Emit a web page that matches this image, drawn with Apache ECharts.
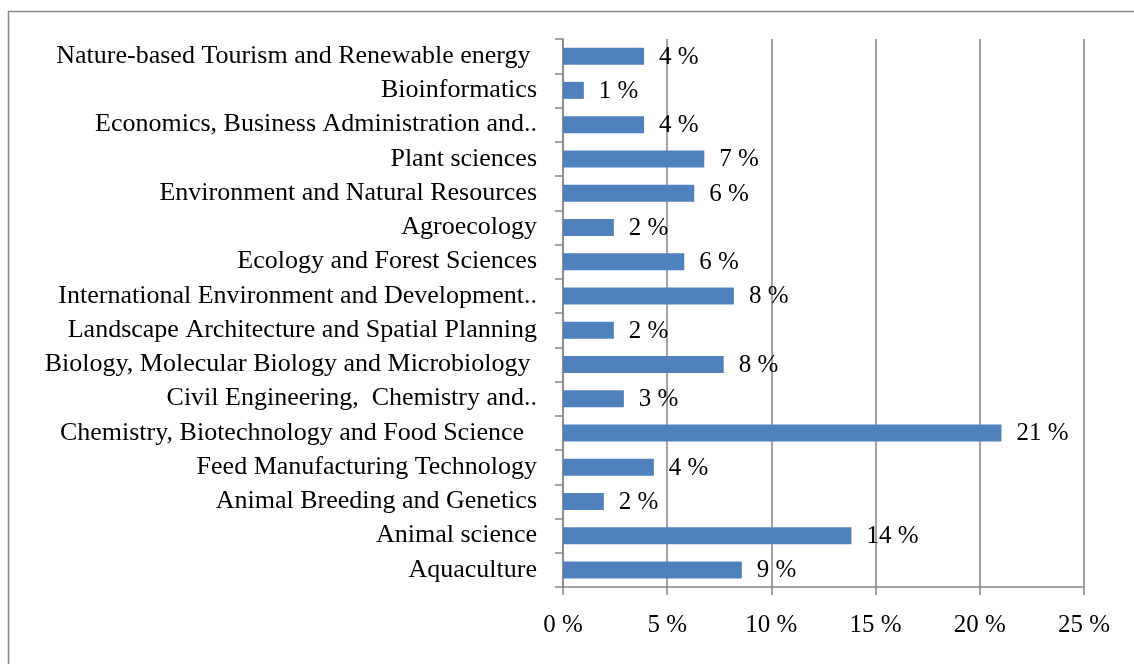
<!DOCTYPE html>
<html>
<head>
<meta charset="utf-8">
<script src="https://cdn.jsdelivr.net/npm/echarts@6/dist/echarts.min.js"></script>
<style>
html,body{margin:0;padding:0;background:#fff;}
#chart{width:1134px;height:664px;}
</style>
</head>
<body>
<div id="chart"></div>
<script>
// Categories listed bottom to top
var categories = [
  "Aquaculture",
  "Animal science",
  "Animal Breeding and Genetics",
  "Feed Manufacturing Technology",
  "Chemistry, Biotechnology and Food Science  ",
  "Civil Engineering,  Chemistry and..",
  "Biology, Molecular Biology and Microbiology ",
  "Landscape Architecture and Spatial Planning",
  "International Environment and Development..",
  "Ecology and Forest Sciences",
  "Agroecology",
  "Environment and Natural Resources",
  "Plant sciences",
  "Economics, Business Administration and..",
  "Bioinformatics",
  "Nature-based Tourism and Renewable energy "
];
var shares = [8.58, 13.84, 1.96, 4.36, 21.04, 2.92, 7.71, 2.44, 8.2, 5.82, 2.44, 6.3, 6.78, 3.89, 1.0, 3.89];
var tickValues = [0, 5, 10, 15, 20, 25];

var chart = echarts.init(document.getElementById('chart'));
var serif = '"Liberation Serif", "DejaVu Serif", serif';
chart.setOption({
  animation: false,
  backgroundColor: '#ffffff',
  graphic: [{
    type: 'rect',
    shape: {x: 8.5, y: 11.5, width: 1140, height: 670},
    style: {fill: 'none', stroke: '#868686', lineWidth: 1.5},
    silent: true
  }],
  grid: {left: 563, right: 50, top: 39, bottom: 77, containLabel: false},
  xAxis: {
    type: 'value',
    min: tickValues[0],
    max: tickValues[tickValues.length - 1],
    interval: 5,
    axisLine: {show: true, lineStyle: {color: '#868686', width: 1.5}},
    axisTick: {show: true, length: 8, lineStyle: {color: '#868686', width: 1.5}},
    splitLine: {show: true, lineStyle: {color: '#868686', width: 1.5}},
    axisLabel: {
      margin: 26,
      color: '#000',
      fontFamily: serif,
      fontSize: 25,
      formatter: function (v) { return v + ' %'; }
    }
  },
  yAxis: {
    type: 'category',
    data: categories,
    axisLine: {show: true, onZero: false, lineStyle: {color: '#868686', width: 1.5}},
    axisTick: {show: true, length: 8, lineStyle: {color: '#868686', width: 1.5}},
    axisLabel: {
      margin: 26,
      color: '#000',
      fontFamily: serif,
      fontSize: 26
    },
    splitLine: {show: false}
  },
  series: [{
    type: 'bar',
    data: shares,
    barWidth: 17,
    itemStyle: {color: '#4F81BD'},
    label: {
      show: true,
      position: 'right',
      distance: 15,
      offset: [0, 1],
      color: '#000',
      fontFamily: serif,
      fontSize: 25,
      formatter: function (p) { return Math.round(p.value) + ' %'; }
    }
  }]
});
</script>
</body>
</html>
